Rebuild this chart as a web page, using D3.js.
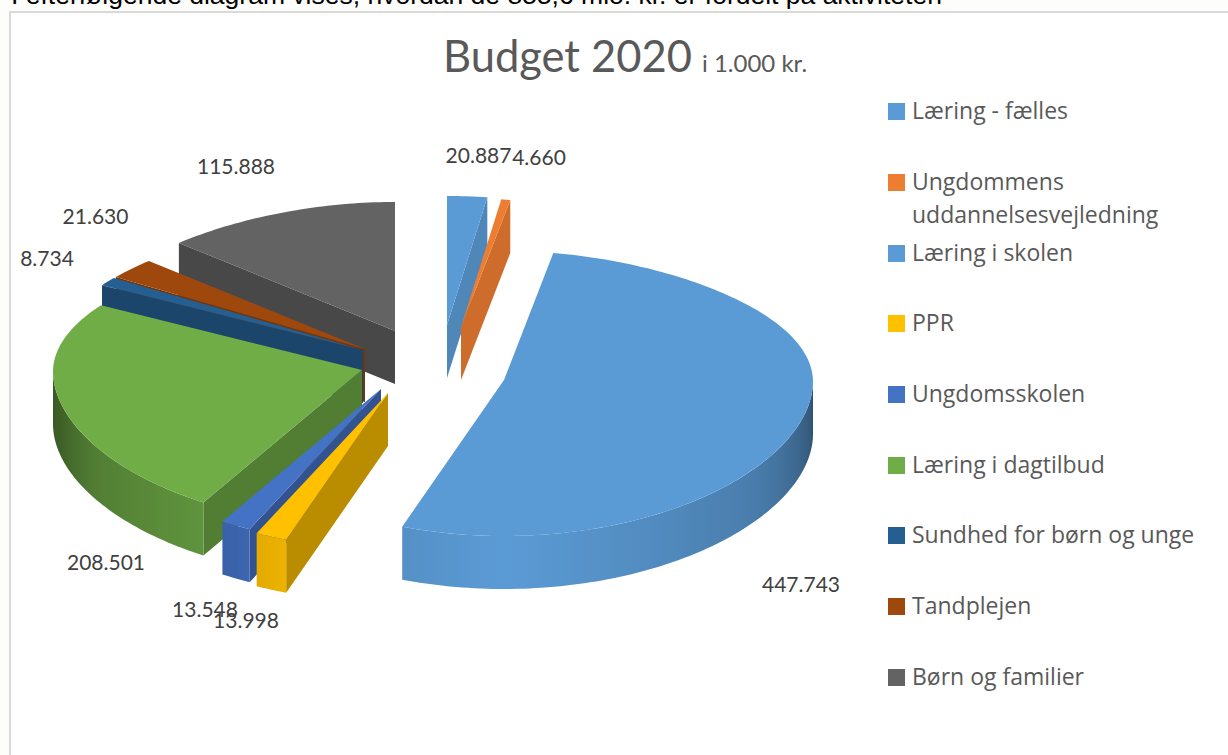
<!DOCTYPE html>
<html>
<head>
<meta charset="utf-8">
<title>Budget 2020</title>
<script src="https://cdnjs.cloudflare.com/ajax/libs/d3/7.8.5/d3.min.js"></script>
<style>
html, body { margin: 0; padding: 0; background: #fff; overflow: hidden; }
svg { display: block; }
</style>
</head>
<body>
<svg id="chart" width="1228" height="755"></svg>
<script>
// values in 1.000 kr.
var categories = ["Læring - fælles", "Ungdommens uddannelsesvejledning", "Læring i skolen", "PPR", "Ungdomsskolen",
  "Læring i dagtilbud", "Sundhed for børn og unge", "Tandplejen", "Børn og familier"];
var values = [20887, 4660, 447743, 13998, 13548, 208501, 8734, 21630, 115888];
var valueLabels = ["20.887", "4.660", "447.743", "13.998", "13.548", "208.501", "8.734", "21.630", "115.888"];

// layout settings, same order as categories
var colors = ["#5B9BD5", "#ED7D31", "#5B9BD5", "#FFC000", "#4472C4", "#70AD47", "#255E91", "#9E480E", "#636363"];
var pullX = [47, 61, 104, -12, -19, -38, -37, -35, -5];
var pullY = [-40, -38, 15, 28, 24, 5, -15, -16, -34];
var labelX = [478.5, 539, 801, 246, 205, 106, 47, 95.5, 236];
var labelY = [158, 160, 587, 623, 612, 565, 261, 219, 169];
var legendY = [111.5, 182.5, 253.5, 323.5, 394.5, 465.5, 535.5, 606.5, 677.5];

// draw order, back to front
var drawOrder = [8, 7, 6, 5, 0, 1, 2, 4, 3];

var svg = d3.select("#chart");
var cx = 400, cy = 365;
var radius = 309, depth = 53;
var tau = 2 * Math.PI;

// wall brightness against angle round the pie, in degrees
var wallLight = d3.scaleLinear()
  .domain([90, 110, 125, 180, 199, 211, 239, 255, 270])
  .range([0.5, 0.68, 0.8, 1, 0.93, 0.85, 0.73, 0.57, 0.5])
  .clamp(true);

var pie = d3.pie().sort(null).value(function(d) { return d; });
var arcs = pie(values);

// tilted pie with some perspective, back of the pie is squeezed
function project(i, a, r) {
  var front = -Math.cos(a) * r;
  var side = Math.sin(a) * r;
  var f = front < 0 ? 1 + 0.021 * front - 0.129 * front * front : 1 + 0.005 * front;
  return [cx + pullX[i] + radius * side * f, cy + pullY[i] + front * (142.5 + 13.5 * front)];
}

function arcPoints(i, a0, a1) {
  var n = Math.max(2, Math.ceil((a1 - a0) / 0.02));
  return d3.range(n + 1).map(function(k) { return project(i, a0 + (a1 - a0) * k / n, 1); });
}

function down(p) { return [p[0], p[1] + depth]; }

var line = d3.line();

function shade(base, m) {
  var c = d3.rgb(base);
  return d3.rgb(c.r * m, c.g * m, c.b * m).formatHex();
}

drawFrame();

var defs = svg.append("defs");
var slices = svg.append("g");
drawOrder.forEach(function(i) {
  var d = arcs[i];
  var g = slices.append("g");
  var a0 = d.startAngle, a1 = d.endAngle;
  var apex = project(i, 0, 0);

  // cut faces
  if (Math.sin(a0) < -0.001) {
    var p = project(i, a0, 1);
    g.append("path").attr("d", line([apex, p, down(p), down(apex)]) + "Z").attr("fill", shade(colors[i], 0.73));
  }
  if (Math.sin(a1) > 0.001) {
    var q = project(i, a1, 1);
    g.append("path").attr("d", line([apex, q, down(q), down(apex)]) + "Z").attr("fill", shade(colors[i], 0.87));
  }

  // outside wall, only the part that faces us, shaded along x
  var w0 = Math.max(a0, Math.PI / 2), w1 = Math.min(a1, tau * 0.75);
  if (w1 > w0) {
    var top = arcPoints(i, w0, w1);
    var x0 = d3.min(top, function(t) { return t[0]; }), x1 = d3.max(top, function(t) { return t[0]; });
    var grad = defs.append("linearGradient").attr("id", "wall" + i)
      .attr("gradientUnits", "userSpaceOnUse")
      .attr("x1", x0).attr("x2", x1).attr("y1", 0).attr("y2", 0);
    var stops = 40;
    var angleStops = d3.range(stops + 1).map(function(k) { return w0 + (w1 - w0) * k / stops; });
    angleStops.sort(function(s, e) { return project(i, s, 1)[0] - project(i, e, 1)[0]; });
    angleStops.forEach(function(s) {
      grad.append("stop")
        .attr("offset", (project(i, s, 1)[0] - x0) / Math.max(1, x1 - x0))
        .attr("stop-color", shade(colors[i], wallLight(s * 180 / Math.PI)));
    });
    g.append("path").attr("d", line(top.concat(top.map(down).reverse())) + "Z")
      .attr("fill", "url(#wall" + i + ")");
  }

  // top
  g.append("path").attr("d", line([apex].concat(arcPoints(i, a0, a1))) + "Z").attr("fill", colors[i]);
});

drawLabels();
drawLegend();
drawTitle();

function drawFrame() {
  svg.append("rect").attr("x", 0).attr("y", 0).attr("width", 1228).attr("height", 755).attr("fill", "#fdfdfb");
  svg.append("rect").attr("x", 10).attr("y", 12).attr("width", 1230).attr("height", 760)
    .attr("fill", "#fff").attr("stroke", "#d9d9d9").attr("stroke-width", 2);
  // the line above the chart is cut by the top of the picture
  svg.append("text").attr("x", 11).attr("y", 3.5)
    .attr("font-family", "Liberation Sans").attr("font-size", 26.5).attr("fill", "#000")
    .text("I efterfølgende diagram vises, hvordan de 855,6 mio. kr. er fordelt på aktiviteten");
}

function drawLabels() {
  svg.append("g").selectAll("text").data(valueLabels).enter().append("text")
    .attr("x", function(d, i) { return labelX[i]; })
    .attr("y", function(d, i) { return labelY[i]; })
    .attr("text-anchor", "middle").attr("dominant-baseline", "middle")
    .attr("font-family", "Lato").attr("font-size", 21).attr("fill", "#404040")
    .text(function(d) { return d; });
}

function drawLegend() {
  var items = svg.append("g").selectAll("g").data(categories).enter().append("g")
    .attr("transform", function(d, i) { return "translate(888," + legendY[i] + ")"; });
  items.append("rect").attr("x", 0).attr("y", -8.5).attr("width", 17).attr("height", 17)
    .attr("fill", function(d, i) { return colors[i]; });
  items.each(function(d) {
    var parts = d === "Ungdommens uddannelsesvejledning" ? d.split(" ") : [d];
    d3.select(this).selectAll("text").data(parts).enter().append("text")
      .attr("x", 24).attr("y", function(p, k) { return k * 33 + 1; })
      .attr("dominant-baseline", "middle")
      .attr("font-family", "Open Sans").attr("font-size", 23).attr("fill", "#595959")
      .text(function(p) { return p; });
  });
}

function drawTitle() {
  var t = svg.append("text").attr("x", 443).attr("y", 72)
    .attr("font-family", "Lato").attr("fill", "#595959");
  t.append("tspan").attr("font-size", 43.5).text("Budget 2020");
  t.append("tspan").attr("font-size", 24).attr("dx", 10).text("i 1.000 kr.");
}
</script>
</body>
</html>
